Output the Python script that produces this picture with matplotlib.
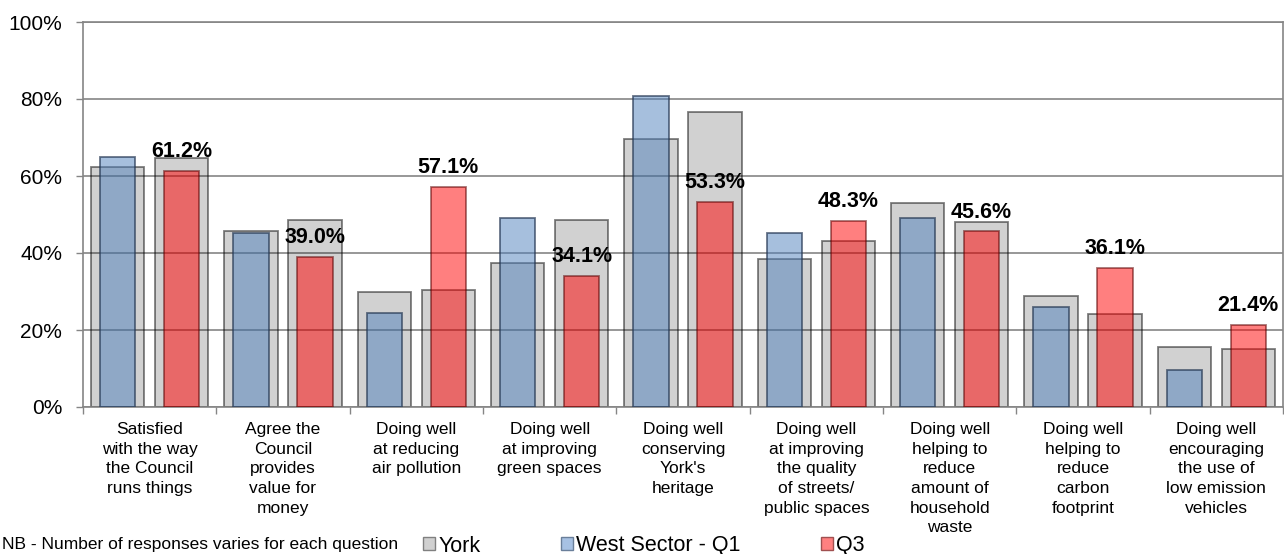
import matplotlib
matplotlib.use("Agg")
import matplotlib.pyplot as plt
from matplotlib.patches import Patch
import numpy as np

plt.rcParams['font.family'] = ['Liberation Sans', 'DejaVu Sans']

categories = [
    "Satisfied\nwith the way\nthe Council\nruns things",
    "Agree the\nCouncil\nprovides\nvalue for\nmoney",
    "Doing well\nat reducing\nair pollution",
    "Doing well\nat improving\ngreen spaces",
    "Doing well\nconserving\nYork's\nheritage",
    "Doing well\nat improving\nthe quality\nof streets/\npublic spaces",
    "Doing well\nhelping to\nreduce\namount of\nhousehold\nwaste",
    "Doing well\nhelping to\nreduce\ncarbon\nfootprint",
    "Doing well\nencouraging\nthe use of\nlow emission\nvehicles",
]
york_q1 = [62.3, 45.7, 29.9, 37.4, 69.6, 38.5, 53.1, 28.9, 15.6]
york_q3 = [64.8, 48.7, 30.4, 48.7, 76.5, 43.2, 48.1, 24.2, 15.1]
west_q1 = [64.9, 45.2, 24.5, 49.2, 80.9, 45.1, 49.1, 26.1, 9.6]
west_q3 = [61.2, 39.0, 57.1, 34.1, 53.3, 48.3, 45.6, 36.1, 21.4]
yticks = [0, 20, 40, 60, 80, 100]
ytick_labels = ["0%", "20%", "40%", "60%", "80%", "100%"]
legend_labels = ["York", "West Sector - Q1", "Q3"]
note = "NB - Number of responses varies for each question"

fig = plt.figure(figsize=(12.84, 5.54), dpi=100)
ax = fig.add_axes([83/1284, 1-407/554, (1283-83)/1284, (407-22)/554])

x = np.arange(len(categories))
off = 0.24
gw = 0.40
cw = 0.267

grey_face = (0, 0, 0, 0.18)
grey_edge = (0, 0, 0, 0.5)
blue_face = (0.31, 0.506, 0.741, 0.5)
blue_edge = (0.15, 0.22, 0.33, 0.7)
red_face = (1.0, 0.0, 0.0, 0.5)
red_edge = (0.35, 0.0, 0.0, 0.55)

ax.bar(x - off, york_q1, gw, facecolor=grey_face, edgecolor=grey_edge, linewidth=1.3, zorder=2)
ax.bar(x + off, york_q3, gw, facecolor=grey_face, edgecolor=grey_edge, linewidth=1.3, zorder=2)
ax.bar(x - off, west_q1, cw, facecolor=blue_face, edgecolor=blue_edge, linewidth=1.3, zorder=3)
ax.bar(x + off, west_q3, cw, facecolor=red_face, edgecolor=red_edge, linewidth=1.3, zorder=3)

for xi, v in zip(x, west_q3):
    ax.annotate(f"{v:.1f}%", (xi + off, v), xytext=(0, 10), textcoords='offset points',
                ha='center', va='baseline', fontsize=15.5, fontweight='bold', zorder=5)

ax.set_xlim(-0.5, len(categories) - 0.5)
ax.set_ylim(0, 100)
ax.set_yticks(yticks)
ax.set_yticklabels(ytick_labels, fontsize=15)
ax.yaxis.grid(True, color='#858585', linewidth=1.2, zorder=1)
ax.set_axisbelow(True)
ax.tick_params(axis='y', length=5, width=1, color='#858585', pad=10)

ax.set_xticks(x)
ax.set_xticklabels(categories, fontsize=12.5, linespacing=1.38)
ax.tick_params(axis='x', which='major', length=0, pad=11)
ax.set_xticks(np.arange(-0.5, len(categories), 1.0), minor=True)
ax.tick_params(axis='x', which='minor', length=5, width=1, color='#858585')

for s in ax.spines.values():
    s.set_color('#858585')
    s.set_linewidth(1.2)

handles = [
    Patch(facecolor='#d0d0d0', edgecolor='#808080', linewidth=1),
    Patch(facecolor='#a7c1e3', edgecolor='#6a7f9a', linewidth=1),
    Patch(facecolor='#ff8080', edgecolor='#a05050', linewidth=1),
]
fig.legend(handles, legend_labels, loc='center left', bbox_to_anchor=(423/1284, 1-546/554),
           ncol=3, frameon=False, fontsize=15.5, handlelength=0.55, handleheight=0.55,
           handletextpad=0.15, columnspacing=3.75, borderpad=0, borderaxespad=0)

fig.text(2/1284, 1-537/554, note, fontsize=12.5, ha='left', va='top')

fig.savefig("out.png", dpi=100)
